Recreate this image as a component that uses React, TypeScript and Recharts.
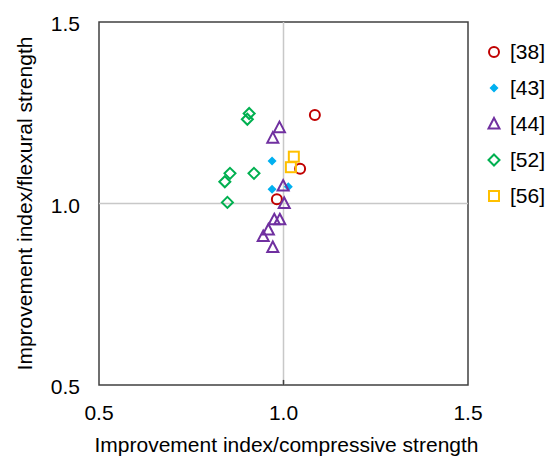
import React from 'react';
import { ScatterChart, Scatter, XAxis, YAxis, ReferenceLine, ReferenceArea } from 'recharts';

const seriesNames = ['[38]', '[43]', '[44]', '[52]', '[56]'];
const seriesColors = ['#C00000', '#00B0F0', '#7030A0', '#00B050', '#FFC000'];

const ref38X = [1.085, 1.045, 0.982];
const ref38Y = [1.244, 1.096, 1.012];
const ref43X = [0.969, 0.969, 1.013];
const ref43Y = [1.117, 1.039, 1.046];
const ref44X = [0.989, 0.971, 0.999, 1.002, 0.975, 0.990, 0.959, 0.945, 0.971];
const ref44Y = [1.209, 1.180, 1.048, 1.000, 0.955, 0.955, 0.927, 0.909, 0.879];
const ref52X = [0.907, 0.902, 0.855, 0.841, 0.920, 0.848];
const ref52Y = [1.248, 1.232, 1.083, 1.060, 1.083, 1.003];
const ref56X = [1.028, 1.020];
const ref56Y = [1.129, 1.100];

const axisTicks = [0.5, 1.0, 1.5];
const xTitle = 'Improvement index/compressive strength';
const yTitle = 'Improvement index/flexural strength';

const toPoints = (xs: number[], ys: number[]) => xs.map((x, i) => ({ x, y: ys[i] }));
const seriesData = [
  toPoints(ref38X, ref38Y),
  toPoints(ref43X, ref43Y),
  toPoints(ref44X, ref44Y),
  toPoints(ref52X, ref52Y),
  toPoints(ref56X, ref56Y),
];

const FONT = '"Liberation Sans", Arial, sans-serif';

function Marker({ kind, cx, cy, color }: { kind: number; cx: number; cy: number; color: string }) {
  const sw = 2;
  switch (kind) {
    case 0:
      return <circle cx={cx} cy={cy} r={5} fill="none" stroke={color} strokeWidth={sw} />;
    case 1:
      return (
        <polygon
          points={`${cx},${cy - 4.5} ${cx + 4.5},${cy} ${cx},${cy + 4.5} ${cx - 4.5},${cy}`}
          fill={color}
          stroke="none"
        />
      );
    case 2:
      return (
        <polygon
          points={`${cx},${cy - 6} ${cx + 5.5},${cy + 4.5} ${cx - 5.5},${cy + 4.5}`}
          fill="none"
          stroke={color}
          strokeWidth={sw}
          strokeLinejoin="miter"
        />
      );
    case 3:
      return (
        <polygon
          points={`${cx},${cy - 5.5} ${cx + 5.5},${cy} ${cx},${cy + 5.5} ${cx - 5.5},${cy}`}
          fill="none"
          stroke={color}
          strokeWidth={sw}
        />
      );
    default:
      return (
        <rect x={cx - 5} y={cy - 5} width={10} height={10} fill="none" stroke={color} strokeWidth={sw} />
      );
  }
}

const makeShape = (kind: number, color: string) => (props: any) => (
  <Marker kind={kind} cx={props.cx} cy={props.cy} color={color} />
);

function LegendBox() {
  return (
    <div
      style={{
        position: 'absolute',
        left: 485,
        top: 34,
        width: 66,
        fontFamily: FONT,
        fontSize: 21,
        color: '#000',
      }}
    >
      {seriesNames.map((name, i) => (
        <div key={name} style={{ height: 36, display: 'flex', alignItems: 'center' }}>
          <svg width={18} height={18} style={{ display: 'block' }}>
            <Marker kind={i} cx={9} cy={9} color={seriesColors[i]} />
          </svg>
          <span style={{ marginLeft: 7, lineHeight: '36px' }}>{name}</span>
        </div>
      ))}
    </div>
  );
}

export default function App() {
  return (
    <div style={{ position: 'absolute', left: 0, top: 0, width: 551, height: 461, background: '#fff' }}>
      <ScatterChart
        width={551}
        height={461}
        margin={{ top: 22, right: 83, bottom: 24, left: 0 }}
        style={{ fontFamily: FONT }}
      >
        <XAxis
          type="number"
          dataKey="x"
          domain={[0.5, 1.5]}
          ticks={axisTicks}
          tickFormatter={(v: number) => v.toFixed(1)}
          axisLine={false}
          tickLine={false}
          tickSize={0}
          tickMargin={20}
          height={52}
          allowDataOverflow
          tick={{ fill: '#000', fontSize: 21 }}
          label={{ value: xTitle, position: 'bottom', offset: 0, fill: '#000', fontSize: 21, dx: 3 }}
        />
        <YAxis
          type="number"
          dataKey="y"
          domain={[0.5, 1.5]}
          ticks={axisTicks}
          tickFormatter={(v: number) => v.toFixed(1)}
          axisLine={false}
          tickLine={false}
          tickSize={0}
          tickMargin={19}
          width={99}
          allowDataOverflow
          tick={{ fill: '#000', fontSize: 21, dy: 2 }}
          label={{ value: yTitle, angle: -90, position: 'center', dx: -24.5, fill: '#000', fontSize: 21 }}
        />
        <ReferenceLine x={1} stroke="#c8c8c8" strokeWidth={1.5} />
        <ReferenceLine y={1} stroke="#c8c8c8" strokeWidth={1.5} />
        <ReferenceLine
          segment={[{ x: 1, y: 0.5 }, { x: 1, y: 0.514 }]}
          stroke="#404040"
          strokeWidth={1.5}
        />
        <ReferenceArea x1={0.5} x2={1.5} y1={0.5} y2={1.5} fill="none" fillOpacity={0} stroke="#404040" strokeWidth={1.5} />
        {seriesData.map((data, i) => (
          <Scatter
            key={seriesNames[i]}
            name={seriesNames[i]}
            data={data}
            fill={seriesColors[i]}
            isAnimationActive={false}
            shape={makeShape(i, seriesColors[i])}
          />
        ))}
      </ScatterChart>
      <LegendBox />
    </div>
  );
}
